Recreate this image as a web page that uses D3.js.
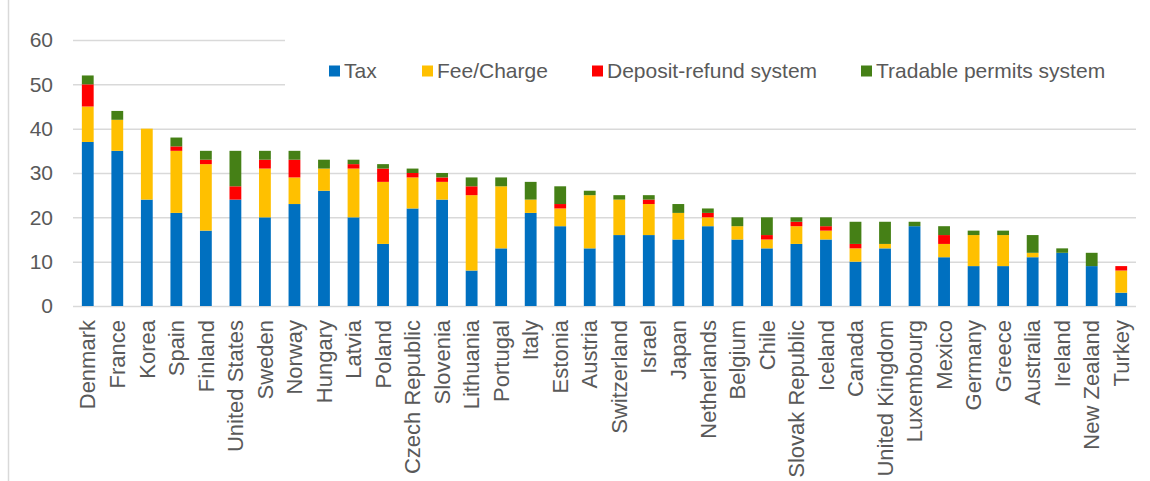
<!DOCTYPE html>
<html>
<head>
<meta charset="utf-8">
<script src="https://cdn.jsdelivr.net/npm/d3@7"></script>
<style>
  html, body { margin: 0; padding: 0; background: #fff; }
  svg { display: block; font-family: "Liberation Sans", Arial, sans-serif; }
</style>
</head>
<body>
<svg id="chart" width="1150" height="481"></svg>
<script>
// data
const countries = ['Denmark','France','Korea','Spain','Finland','United States','Sweden','Norway',
  'Hungary','Latvia','Poland','Czech Republic','Slovenia','Lithuania','Portugal','Italy','Estonia',
  'Austria','Switzerland','Israel','Japan','Netherlands','Belgium','Chile','Slovak Republic','Iceland',
  'Canada','United Kingdom','Luxembourg','Mexico','Germany','Greece','Australia','Ireland','New Zealand','Turkey'];
const tax       = [37,35,24,21,17,24,20,23,26,20,14,22,24, 8,13,21,18,13,16,16,15,18,15,13,14,15,10,13,18,11, 9, 9,11,12, 9, 3];
const feeCharge = [ 8, 7,16,14,15, 0,11, 6, 5,11,14, 7, 4,17,14, 3, 4,12, 8, 7, 6, 2, 3, 2, 4, 2, 3, 1, 0, 3, 7, 7, 1, 0, 0, 5];
const deposit   = [ 5, 0, 0, 1, 1, 3, 2, 4, 0, 1, 3, 1, 1, 2, 0, 0, 1, 0, 0, 1, 0, 1, 0, 1, 1, 1, 1, 0, 0, 2, 0, 0, 0, 0, 0, 1];
const tradable  = [ 2, 2, 0, 2, 2, 8, 2, 2, 2, 1, 1, 1, 1, 2, 2, 4, 4, 1, 1, 1, 2, 1, 2, 4, 1, 2, 5, 5, 1, 2, 1, 1, 4, 1, 3, 0];
const seriesNames = ['Tax','Fee/Charge','Deposit-refund system','Tradable permits system'];
const seriesColors = ['#0070C0','#FFC000','#FF0000','#458016'];
const yTicks = [0,10,20,30,40,50,60];

const svg = d3.select('#chart');
const margin = {left: 73, right: 1136, top: 40, bottom: 306};
const textColor = '#595959';
const gridColor = '#d9d9d9';
const fontSize = '21px';

// chart frame (left edge only visible)
svg.append('line')
  .attr('x1', 8.5).attr('x2', 8.5).attr('y1', 0).attr('y2', 481)
  .attr('stroke', gridColor).attr('stroke-width', 1.5);

const xScale = d3.scaleBand()
  .domain(countries)
  .range([margin.left, margin.right])
  .paddingInner(0.6)
  .paddingOuter(0.3);
const yScale = d3.scaleLinear()
  .domain([0, 60])
  .range([margin.bottom, margin.top]);

// gridlines + y labels
const yAxis = d3.axisLeft(yScale)
  .tickValues(yTicks)
  .tickSize(-(margin.right - margin.left))
  .tickPadding(20);
const yAxisNode = svg.append('g')
  .attr('transform', `translate(${margin.left},0)`)
  .call(yAxis);
yAxisNode.select('.domain').remove();
yAxisNode.selectAll('.tick line').attr('stroke', gridColor).attr('stroke-width', 1.5);
yAxisNode.selectAll('.tick text')
  .attr('fill', textColor)
  .style('font-size', fontSize);

// legend background covers the top gridlines
svg.append('rect')
  .attr('x', 285).attr('y', 34).attr('width', 870).attr('height', 56)
  .attr('fill', '#fff');

// stacked bars
const rows = countries.map((c, i) => ({
  country: c, s0: tax[i], s1: feeCharge[i], s2: deposit[i], s3: tradable[i]
}));
const stack = d3.stack().keys(['s0','s1','s2','s3'])(rows);
svg.append('g').selectAll('g')
  .data(stack)
  .enter()
  .append('g')
  .attr('fill', (d, i) => seriesColors[i])
  .selectAll('rect')
  .data(d => d.filter(p => p[1] > p[0]))
  .enter()
  .append('rect')
  .attr('x', d => xScale(d.data.country))
  .attr('width', xScale.bandwidth())
  .attr('y', d => yScale(d[1]))
  .attr('height', d => yScale(d[0]) - yScale(d[1]));

// x axis labels (rotated)
const xAxis = d3.axisBottom(xScale).tickSize(0).tickPadding(0);
const xAxisNode = svg.append('g')
  .attr('transform', `translate(0,${margin.bottom})`)
  .call(xAxis);
xAxisNode.select('.domain').remove();
xAxisNode.selectAll('.tick text')
  .attr('fill', textColor)
  .style('font-size', '22px')
  .attr('text-anchor', 'end')
  .attr('dy', '0.35em')
  .attr('transform', 'translate(0,14) rotate(-90)')
  .attr('x', 0).attr('y', 0);

// legend
const legendX = [329, 422, 592, 861];
const legend = svg.append('g').selectAll('g')
  .data(seriesNames)
  .enter()
  .append('g')
  .attr('transform', (d, i) => `translate(${legendX[i]},71)`);
legend.append('rect')
  .attr('x', 0).attr('y', -5.5).attr('width', 11).attr('height', 11)
  .attr('fill', (d, i) => seriesColors[i]);
legend.append('text')
  .attr('x', 15).attr('y', 0).attr('dy', '0.35em')
  .attr('fill', textColor)
  .style('font-size', fontSize)
  .text(d => d);
</script>
</body>
</html>
